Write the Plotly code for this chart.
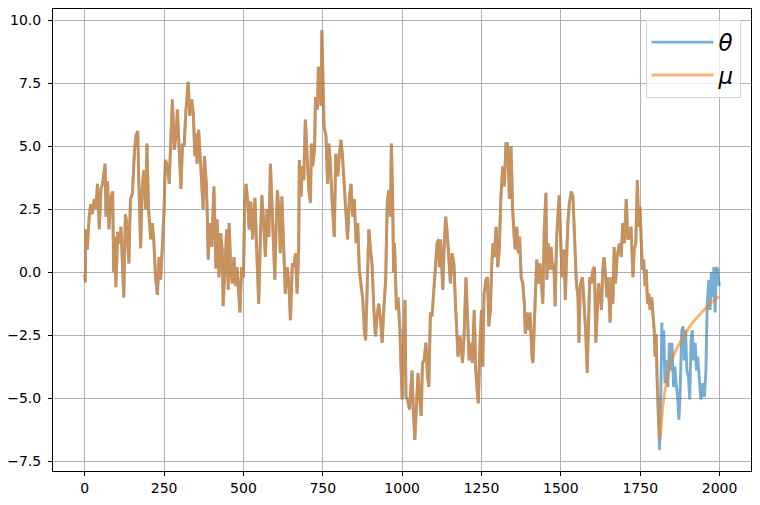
import plotly.graph_objects as go

# Shared part: theta and mu coincide
t_joint = [0,2,3,8,14,19,24,30,35,40,46,51,56,64,67,72,76,83,88,91,95,98,104,109,114,119,123,128,133,139,144,150,157,162,167,170,176,181,186,192,196,201,208,213,218,223,229,234,239,245,250,254,261,266,271,276,282,287,292,298,303,308,313,319,326,331,337,342,347,
           349,354,359,365,370,373,377,383,386,389,394,400,407,410,413,417,423,428,433,436,441,447,452,455,460,465,470,475,480,485,489,494,500,504,508,513,518,523,529,536,542,548,553,558,564,569,574,580,585,591,596,599,603,607,613,616,621,627,632,638,643,648,654,659,664,669,674,
           676,682,685,690,695,700,706,711,714,718,724,727,733,736,740,744,747,751,754,760,765,769,773,779,781,786,791,797,802,807,812,818,823,828,834,839,844,849,855,860,865,870,876,881,885,889,895,900,905,911,916,921,926,932,937,942,948,953,958,963,966,970,973,976,982,987,993,996,1000,1004,
           1009,1012,1017,1023,1027,1031,1035,1040,1046,1050,1055,1060,1064,1069,1075,1080,1084,1089,1094,1099,1104,1110,1115,1117,1121,1128,1132,1137,1142,1147,1152,1157,1163,1168,1173,1176,1182,1186,1190,1195,1201,1205,1211,1216,1221,1227,1232,1237,1240,1245,1250,1254,1258,1264,1269,1273,1278,1282,1286,1290,1296,1301,1306,1311,1317,1322,1327,1332,1338,1343,1348,1353,
           1356,1361,1366,1370,1375,1380,1385,1388,1393,1398,1403,1409,1412,1416,1419,1424,1429,1434,1439,1443,1448,1453,1456,1460,1464,1469,1474,1478,1482,1486,1490,1495,1499,1504,1510,1514,1517,1522,1527,1533,1538,1543,1549,1554,1557,1561,1568,1573,1578,1583,1587,1591,1596,1601,1606,1610,1615,1619,1624,1628,1632,1636,1641,1645,1649,1655,1660,1664,1668,1672,1677,1681,
           1685,1690,1695,1700,1706,1711,1716,1721,1727,1731,1736,1741,1745,1749,1752,1757,1761,1765,1769,1773,1777,1781,1786,1790,1794,1797,1800,1803,1808]
v_joint = [-0.1,-0.4,1.7,0.9,2.2,2.7,2.3,2.9,2.5,3.5,1.7,3.3,3.5,4.3,2.2,3.6,1.7,3.0,3.2,0.0,1.4,-0.6,1.6,1.15,1.8,-0.2,-1.0,2.3,1.9,0.35,2.9,3.1,4.85,5.45,5.6,3.8,0.95,3.3,4.05,2.5,5.1,2.5,1.3,1.95,1.15,-0.2,-0.9,0.6,-0.3,1.15,2.5,4.45,4.2,3.5,5.4,6.85,4.85,5.4,6.45,4.85,3.3,5.1,5.0,6.45,7.55,6.2,6.85,6.3,4.6,
           5.5,4.3,5.65,4.45,3.5,2.5,4.6,3.5,2.35,0.5,1.95,1.0,3.4,2.2,0.15,2.1,-0.2,1.55,0.9,-1.35,0.1,1.7,-0.7,1.95,0.1,-0.45,0.6,-0.55,0.2,-0.7,-1.6,0.2,-0.2,2.75,3.5,2.9,1.7,2.8,1.3,2.95,0.9,-1.25,1.15,3.05,1.95,0.6,2.5,1.4,4.3,2.5,1.15,-0.3,1.8,3.25,2.2,0.75,3.0,0.9,-0.85,0.2,-0.45,-1.9,0.35,0.2,0.75,-0.85,0.9,
           4.45,3.0,4.2,3.65,6.05,4.7,3.25,2.75,5.1,4.2,4.85,6.95,6.45,8.15,7.25,6.6,9.6,7.5,5.8,5.4,3.5,5.1,4.45,2.9,2.5,1.4,4.7,3.8,4.6,5.25,4.6,3.25,1.95,1.3,3.0,3.5,2.2,2.9,1.15,1.95,0.1,-0.45,-1.1,-2.35,-2.7,-1.0,1.7,0.9,0.35,-1.5,-2.55,-1.75,-1.25,-1.9,-2.8,-1.5,-0.3,2.75,3.25,2.2,5.1,3.0,0.0,1.15,-1.5,-1.0,-2.3,-3.6,-5.05,-2.8,
           -1.1,-4.95,-5.05,-5.45,-4.65,-3.9,-5.45,-6.65,-5.05,-4.0,-4.95,-5.7,-3.6,-3.5,-2.8,-4.15,-4.55,-1.6,-1.75,-0.85,-0.2,1.15,1.3,0.2,1.3,-0.7,0.9,2.2,1.55,0.6,-0.45,0.75,0.35,-1.25,-2.55,-3.35,-2.55,-2.95,-3.6,-2.55,-0.2,-1.5,-3.5,-2.8,-3.6,-1.5,-3.9,-4.8,-5.2,-2.8,-1.5,-3.75,-0.85,-0.3,-0.2,-2.15,-1.5,0.2,1.15,0.6,1.8,0.2,0.9,3.0,4.2,3.4,5.1,5.1,2.9,5.0,2.5,1.4,
           0.9,1.8,0.75,1.4,-0.2,-0.45,-1.25,-2.45,-1.6,-2.3,-1.6,-3.35,-3.6,-2.15,-0.85,0.5,-0.45,0.35,-0.45,-1.25,1.8,3.15,-0.3,1.15,0.1,1.0,0.1,0.35,-1.35,1.15,2.1,3.05,1.4,-0.2,0.9,-1.1,0.2,1.95,2.75,3.2,3.0,1.3,-0.45,-1.0,-2.8,-0.55,-0.2,-1.25,-2.3,-4.0,-1.5,-0.2,-0.45,0.1,0.2,-2.8,-1.5,-0.45,-0.85,-1.5,0.1,0.6,-0.2,-1.0,-0.2,-2.0,-0.2,-1.25,1.0,-0.45,0.6,0.9,
           1.15,0.6,1.95,1.15,2.9,1.3,1.4,1.8,-0.2,0.9,1.15,3.65,1.8,2.6,1.4,0.1,0.5,-0.55,0.1,-1.25,-0.85,-1.5,-1.0,-1.6,-2.3,-3.35,-2.45,-4.15,-6.1]

# theta after the series diverge
t_theta_tail = [1811,1815,1818,1821,1824,1828,1833,1837,1842,1846,1850,1855,1859,1863,1868,1872,1876,1881,1885,1889,1893,1897,1902,1906,1910,1914,1918,1923,1927,1931,1936,1941,1947,1952,1957,1961,1966,1970,1974,1978,1982,1986,1990,1994,1999]
v_theta_tail = [-7.05,-4.8,-2.0,-3.5,-2.3,-4.4,-3.5,-4.55,-2.8,-3.9,-2.8,-4.55,-3.75,-4.4,-4.95,-5.85,-4.65,-2.3,-2.15,-3.5,-2.3,-3.9,-4.15,-5.05,-2.7,-2.3,-3.5,-2.8,-3.9,-3.35,-4.15,-5.05,-4.4,-4.95,-3.9,-1.25,-0.3,-1.5,0.0,-1.0,0.2,-1.6,0.2,0.1,-0.55]

# mu after the series diverge (smooth recovery)
t_mu_tail = [1813,1816,1821,1826,1832,1837,1842,1847,1853,1860,1868,1876,1884,1891,1899,1907,1915,1925,1936,1946,1957,1967,1978,1988,1999]
v_mu_tail = [-6.6,-6.0,-5.35,-4.85,-4.4,-4.05,-3.75,-3.52,-3.35,-3.13,-2.95,-2.77,-2.6,-2.44,-2.28,-2.14,-2.0,-1.85,-1.7,-1.56,-1.42,-1.29,-1.16,-1.06,-0.97]

x_ticks = [0, 250, 500, 750, 1000, 1250, 1500, 1750, 2000]
y_ticks = [-7.5, -5.0, -2.5, 0.0, 2.5, 5.0, 7.5, 10.0]

t_theta = t_joint + t_theta_tail
theta = v_joint + v_theta_tail
t_mu = t_joint + t_mu_tail
mu = v_joint + v_mu_tail

fig = go.Figure()
fig.add_trace(go.Scatter(x=t_theta, y=theta, mode="lines", name="<i>θ</i>",
                         line=dict(color="#1f77b4", width=2.9), opacity=0.6))
fig.add_trace(go.Scatter(x=t_mu, y=mu, mode="lines", name="<i>μ</i>",
                         line=dict(color="#ff7f0e", width=2.9), opacity=0.6))

axis_common = dict(showline=True, linecolor="black", linewidth=1, mirror=True,
                   ticks="outside", ticklen=4, tickcolor="black", tickwidth=1,
                   showgrid=True, gridcolor="#b0b0b0", gridwidth=0.8, zeroline=False,
                   automargin=False,
                   tickfont=dict(family="DejaVu Sans", size=14, color="black"))

fig.update_xaxes(range=[-100, 2099], tickvals=x_ticks,
                 ticktext=[str(v) for v in x_ticks], **axis_common)
fig.update_yaxes(range=[-7.885, 10.437], tickvals=y_ticks, tickformat=".1f",
                 ticklabelstandoff=4, **axis_common)

# page body has an 8px default margin, so the figure is sized to fit inside the window
fig.update_layout(
    width=744, height=489,
    margin=dict(l=45, r=1, t=1, b=26),
    paper_bgcolor="white", plot_bgcolor="white",
    font=dict(family="DejaVu Sans", color="black"),
    showlegend=True,
    legend=dict(x=0.985, y=0.977, xanchor="right", yanchor="top",
                bgcolor="rgba(255,255,255,0.8)", bordercolor="#d5d5d5", borderwidth=1,
                font=dict(family="DejaVu Sans", size=23, color="black"),
                itemwidth=62, tracegroupgap=0),
)

fig.write_html("out.html")
